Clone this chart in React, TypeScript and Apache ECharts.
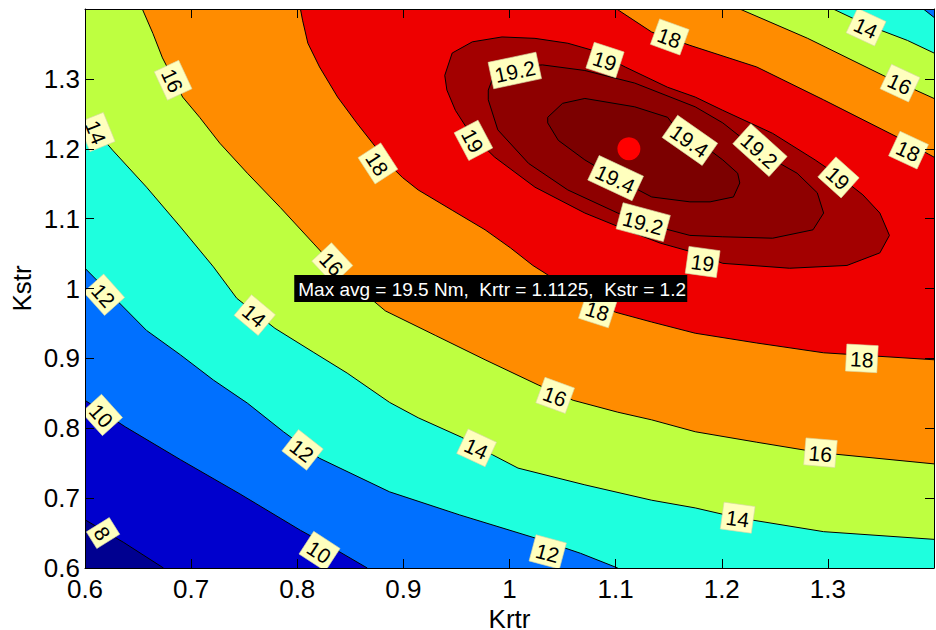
import React, { useEffect, useRef } from "react";
import * as echarts from "echarts";

// Axis ranges (Krtr on x, Kstr on y)
const xMin = 0.6, xMax = 1.4, yMin = 0.6, yMax = 1.4;

// Contour levels (Nm) and the maximum found
const levels = [8, 10, 12, 14, 16, 18, 19, 19.2, 19.4];
const maxAvg = 19.5;
const maxKrtr = 1.1125;
const maxKstr = 1.2;
const noteAnchor = [0.8, 1.0];

// Contour lines, [Krtr, Kstr]
const c8 = [[0.600,0.669],[0.636,0.637],[0.674,0.600]];
const c10 = [[0.600,0.840],[0.638,0.802],[0.690,0.755],[0.746,0.706],[0.803,0.654],[0.840,0.623],[0.866,0.600]];
const c12a = [[0.600,1.029],[0.658,0.940],[0.690,0.905],[0.721,0.869],[0.753,0.836],[0.787,0.795],[0.821,0.757],[0.887,0.709],[0.953,0.676],[1.024,0.643],[1.067,0.621],[1.102,0.600]];
const c12b = [[1.390,1.400],[1.400,1.388]];
const c14a = [[0.600,1.244],[0.626,1.198],[0.658,1.145],[0.690,1.088],[0.721,1.031],[0.743,0.986],[0.779,0.943],[0.815,0.909],[0.847,0.879],[0.887,0.837],[0.914,0.815],[0.955,0.787],[0.984,0.762],[1.008,0.743],[1.071,0.719],[1.134,0.697],[1.175,0.686],[1.215,0.672],[1.296,0.652],[1.400,0.641]];
const c14b = [[1.305,1.400],[1.337,1.377],[1.375,1.355],[1.400,1.337]];
const c16a = [[0.654,1.400],[0.664,1.365],[0.673,1.330],[0.692,1.274],[0.708,1.245],[0.727,1.208],[0.753,1.165],[0.784,1.116],[0.815,1.065],[0.843,1.019],[0.883,0.968],[0.930,0.933],[0.977,0.898],[1.027,0.862],[1.060,0.840],[1.102,0.823],[1.134,0.812],[1.175,0.795],[1.233,0.780],[1.293,0.765],[1.400,0.749]];
const c16b = [[1.217,1.400],[1.281,1.358],[1.352,1.305],[1.400,1.272]];
const c18a = [[0.803,1.400],[0.805,1.384],[0.810,1.351],[0.821,1.317],[0.838,1.274],[0.856,1.237],[0.871,1.208],[0.887,1.177],[0.899,1.159],[0.914,1.141],[0.946,1.112],[0.977,1.084],[1.001,1.058],[1.022,1.033],[1.048,1.008],[1.076,0.983],[1.100,0.966],[1.134,0.952],[1.175,0.936],[1.233,0.922],[1.296,0.908],[1.400,0.898]];
const c18b = [[1.101,1.400],[1.134,1.367],[1.170,1.348],[1.233,1.317],[1.296,1.270],[1.365,1.217],[1.400,1.188]];
const c19 = [[0.939,1.305],[0.946,1.337],[0.965,1.353],[0.993,1.360],[1.024,1.358],[1.055,1.351],[1.078,1.341],[1.109,1.317],[1.149,1.288],[1.175,1.274],[1.201,1.255],[1.248,1.222],[1.288,1.184],[1.312,1.159],[1.333,1.134],[1.349,1.108],[1.358,1.076],[1.349,1.051],[1.318,1.033],[1.264,1.029],[1.201,1.036],[1.175,1.051],[1.142,1.065],[1.118,1.079],[1.071,1.108],[1.024,1.145],[0.986,1.188],[0.963,1.222],[0.949,1.255],[0.941,1.284]];
const c192 = [[0.980,1.284],[0.986,1.308],[1.005,1.317],[1.031,1.320],[1.071,1.312],[1.118,1.294],[1.175,1.260],[1.201,1.237],[1.236,1.195],[1.271,1.165],[1.290,1.137],[1.296,1.108],[1.286,1.084],[1.248,1.072],[1.201,1.074],[1.170,1.076],[1.125,1.094],[1.102,1.108],[1.055,1.141],[1.018,1.179],[0.989,1.227],[0.980,1.270]];
const c194 = [[1.036,1.245],[1.050,1.265],[1.071,1.272],[1.118,1.260],[1.149,1.245],[1.163,1.217],[1.180,1.208],[1.201,1.184],[1.215,1.165],[1.217,1.151],[1.211,1.131],[1.189,1.124],[1.170,1.124],[1.134,1.131],[1.100,1.158],[1.071,1.184],[1.046,1.212],[1.036,1.237]];

// Contour labels
const labelX = [0.683,0.611,0.876,0.833,0.618,0.760,0.616,0.805,0.617,0.821,1.005,1.090,1.151,0.966,1.170,1.100,1.126,1.236,1.310,1.182,1.336,1.368,1.376,1.083,1.043,0.969,1.036,1.332,1.293,1.215];
const labelY = [1.298,1.224,1.179,1.036,0.991,0.962,0.819,0.769,0.650,0.624,1.312,1.327,1.360,1.212,1.212,1.158,1.095,1.198,1.159,1.038,1.374,1.294,1.198,0.969,0.847,0.772,0.623,0.900,0.765,0.672];
const labelText = ["16","14","18","16","12","14","10","12","8","10","19.2","19","18","19","19.4","19.4","19.2","19.2","19","19","14","16","18","18","16","14","12","18","16","14"];
const labelAngle = [-65,-68,-57,-47,-48,-40,-48,-38,-58,-33,12,-18,-20,-62,-35,-25,-15,-42,-42,-8,-25,-25,-25,-18,-20,-25,-15,-3,-5,-8];

// Styles
const bandColors = ["#000090", "#0000CD", "#0070FF", "#1EFFDE", "#BEFF40", "#FF8C00", "#EE0000", "#A30000", "#8E0000", "#7C0000"];
const FONT = '"Liberation Sans", Arial, Helvetica, sans-serif';

const rev = (a: number[][]) => a.slice().reverse();

export default function App() {
  const ref = useRef<HTMLDivElement>(null);
  useEffect(() => {
    if (!ref.current) return;
    const chart = echarts.init(ref.current, null, { renderer: "svg" });

    const fills: number[][][] = [
      [[xMin, yMin], [xMax, yMin], [xMax, yMax], [xMin, yMax]],
      [...c8, [xMax, yMin], [xMax, yMax], [xMin, yMax]],
      [...c10, [xMax, yMin], [xMax, yMax], [xMin, yMax]],
      [...c12a, [xMax, yMin], ...rev(c12b), [xMin, yMax]],
      [...c14a, ...rev(c14b), [xMin, yMax]],
      [...c16a, ...rev(c16b)],
      [...c18a, ...rev(c18b)],
      c19,
      c192,
      c194,
    ];
    const lines: number[][][] = [
      c8, c10, c12a, c12b, c14a, c14b, c16a, c16b, c18a, c18b,
      [...c19, c19[0]], [...c192, c192[0]], [...c194, c194[0]],
    ];

    const tw = (s: string, size: number) => {
      let w = 0;
      for (const ch of s) w += ch === "." ? 0.278 : 0.556;
      return w * size;
    };
    const noteText = `Max avg = ${maxAvg} Nm,  Krtr = ${maxKrtr},  Kstr = ${maxKstr}`;

    const fmt = (v: number) => String(parseFloat(v.toFixed(2)));
    const axisCommon = {
      type: "value" as const,
      interval: 0.1,
      z: 20,
      splitLine: { show: false },
      axisLine: { show: true, onZero: false, lineStyle: { color: "#000", width: 1 } },
      axisTick: { show: true, inside: true, length: 9, lineStyle: { color: "#000" } },
    };

    chart.setOption({
      animation: false,
      grid: { left: 85, top: 9, right: 2, bottom: 62, containLabel: false, outerBoundsMode: "none" },
      xAxis: [
        {
          ...axisCommon, min: xMin, max: xMax, position: "bottom",
          name: "Krtr", nameLocation: "middle", nameGap: 39, nameMoveOverlap: false,
          nameTextStyle: { fontSize: 26, lineHeight: 24, color: "#000", fontFamily: FONT },
          axisLabel: { fontSize: 26, color: "#000", fontFamily: FONT, margin: 8, showMaxLabel: false, formatter: fmt },
        },
        {
          ...axisCommon, min: xMin, max: xMax, position: "top",
          axisLabel: { show: false },
        },
      ],
      yAxis: [
        {
          ...axisCommon, min: yMin, max: yMax, position: "left",
          name: "Kstr", nameLocation: "middle", nameGap: 50, nameRotate: 90, nameMoveOverlap: false,
          nameTextStyle: { fontSize: 26, color: "#000", fontFamily: FONT },
          axisLabel: { fontSize: 26, color: "#000", fontFamily: FONT, margin: 5, showMaxLabel: false, formatter: fmt },
        },
        {
          ...axisCommon, min: yMin, max: yMax, position: "right",
          axisLabel: { show: false },
        },
      ],
      series: [
        {
          type: "custom", name: "bands", xAxisIndex: 0, yAxisIndex: 0, clip: true, silent: true, z: 1,
          data: fills.map((p, i) => [p[0][0], p[0][1], i]),
          renderItem: (params: any, api: any) => ({
            type: "polygon",
            shape: { points: fills[params.dataIndex].map((p) => api.coord(p)) },
            style: { fill: bandColors[params.dataIndex], stroke: null },
          }),
        },
        {
          type: "custom", name: "contours", xAxisIndex: 0, yAxisIndex: 0, clip: true, silent: true, z: 2,
          data: lines.map((p, i) => [p[0][0], p[0][1], i]),
          renderItem: (params: any, api: any) => ({
            type: "polyline",
            shape: { points: lines[params.dataIndex].map((p) => api.coord(p)) },
            style: { stroke: "#000", lineWidth: 1, fill: null },
          }),
        },
        {
          type: "scatter", name: "max", xAxisIndex: 0, yAxisIndex: 0, z: 3, silent: true,
          symbol: "circle", symbolSize: 23,
          itemStyle: { color: "#FF0000", opacity: 1 },
          data: [[maxKrtr, maxKstr]],
        },
        {
          type: "custom", name: "labels", xAxisIndex: 0, yAxisIndex: 0, clip: true, silent: true, z: 4,
          data: labelX.map((x, i) => [x, labelY[i], i]),
          renderItem: (params: any, api: any) => {
            const i = params.dataIndex;
            const c = api.coord([labelX[i], labelY[i]]);
            const t = labelText[i];
            const w = tw(t, 21) + 8;
            const h = 27;
            return {
              type: "group", x: c[0], y: c[1], rotation: (labelAngle[i] * Math.PI) / 180,
              children: [
                { type: "rect", shape: { x: -w / 2, y: -h / 2, width: w, height: h }, style: { fill: "#FFFFBE", stroke: "#D8D8A8", lineWidth: 0.6 } },
                { type: "text", style: { text: t, x: 0, y: 1, align: "center", verticalAlign: "middle", fontSize: 21, fontFamily: FONT, fill: "#000" } },
              ],
            };
          },
        },
        {
          type: "custom", name: "note", xAxisIndex: 0, yAxisIndex: 0, clip: true, silent: true, z: 5,
          data: [[noteAnchor[0], noteAnchor[1]]],
          renderItem: (params: any, api: any) => {
            const c = api.coord(noteAnchor);
            return {
              type: "group", x: c[0], y: c[1],
              children: [
                { type: "rect", shape: { x: -3, y: -13.5, width: 393, height: 27 }, style: { fill: "#000" } },
                { type: "text", style: { text: noteText, x: 1, y: 0.5, align: "left", verticalAlign: "middle", fontSize: 19, fontFamily: FONT, fill: "#FFF" } },
              ],
            };
          },
        },
      ],
    });
    return () => chart.dispose();
  }, []);
  return (
    <div
      ref={ref}
      style={{ position: "fixed", left: 0, top: 0, width: 936, height: 630, background: "#fff" }}
    />
  );
}
